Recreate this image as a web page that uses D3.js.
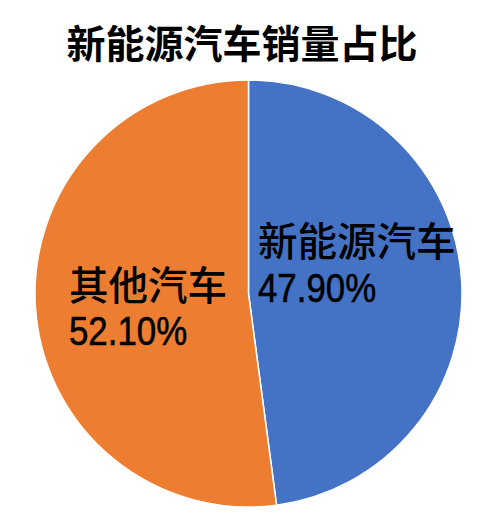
<!DOCTYPE html>
<html><head><meta charset="utf-8">
<script src="https://cdn.jsdelivr.net/npm/d3@7"></script>
<style>body{margin:0;background:#fff}</style>
</head><body>
<svg id="c" width="493" height="517"></svg>
<script>
const title = "新能源汽车销量占比";
const categories = ["新能源汽车", "其他汽车"];
const values = [47.9, 52.1];
const valueLabels = ["47.90%", "52.10%"];
const colors = ["#4472C4", "#ED7D31"];

const svg = d3.select("#c");
const cx = 248.5, cy = 293.5, r = 213.5;
svg.append("rect").attr("width",493).attr("height",517).attr("fill","#fff");
svg.append("text").attr("x",242).attr("y",58).attr("text-anchor","middle")
  .attr("font-family","'Noto Sans CJK SC'").attr("font-weight","bold").attr("font-size",39)
  .attr("fill","#000").text(title);

const pie = d3.pie().sort(null).value(d=>d)(values);
const arc = d3.arc().innerRadius(0).outerRadius(r);
const g = svg.append("g").attr("transform",`translate(${cx},${cy})`);
g.selectAll("path").data(pie).join("path").attr("d",arc)
  .attr("fill",(d,i)=>colors[i]).attr("stroke","#fff").attr("stroke-width",1.5);

const labelPos = [{x:258,y1:256,y2:302},{x:69,y1:300,y2:345}];
categories.forEach((c,i)=>{
  const p = labelPos[i];
  svg.append("text").attr("x",p.x).attr("y",p.y1)
    .attr("font-family","'Noto Sans CJK SC'").attr("font-weight",500).attr("font-size",39.5)
    .attr("fill","#000").text(c);
  svg.append("text").attr("transform",`translate(${p.x},${p.y2}) scale(0.85,1)`)
    .attr("font-family","'Liberation Sans',Arial").attr("font-size",41)
    .attr("fill","#000").attr("stroke","#000").attr("stroke-width",0.6).text(valueLabels[i]);
});
</script>
</body></html>
